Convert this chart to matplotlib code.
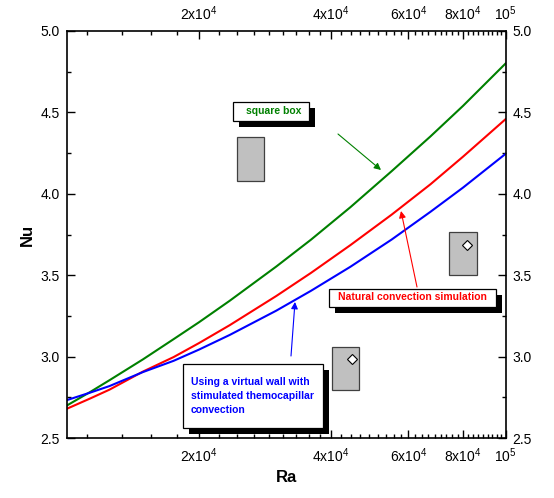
import matplotlib

matplotlib.use("Agg")
import matplotlib.pyplot as plt  # noqa: E402
from matplotlib.lines import Line2D  # noqa: E402
from matplotlib.patches import Rectangle  # noqa: E402
from matplotlib.ticker import FixedLocator, MultipleLocator, NullFormatter  # noqa: E402

plt.rcParams["font.family"] = ["Liberation Sans", "DejaVu Sans"]
plt.rcParams["mathtext.default"] = "regular"

# values
ra = [1.0e4, 1.13e4, 1.25e4, 1.49e4, 1.75e4, 2.0e4, 2.35e4, 3.0e4, 3.6e4,
      4.43e4, 5.5e4, 6.74e4, 8.0e4, 1.0e5]
nu_box = [2.70, 2.783, 2.855, 2.983, 3.107, 3.211, 3.343, 3.553, 3.718,
          3.918, 4.139, 4.352, 4.54, 4.80]
nu_natural = [2.68, 2.743, 2.797, 2.908, 2.997, 3.083, 3.193, 3.372, 3.514,
              3.685, 3.872, 4.058, 4.228, 4.458]
nu_wall = [2.733, 2.779, 2.819, 2.905, 2.974, 3.043, 3.133, 3.282, 3.404,
           3.552, 3.719, 3.889, 4.038, 4.245]

xticks = [2e4, 4e4, 6e4, 8e4, 1e5]
xticklabels = [r"2x10$^{4}$", r"4x10$^{4}$", r"6x10$^{4}$", r"8x10$^{4}$", r"10$^{5}$"]
yticks = [2.5, 3.0, 3.5, 4.0, 4.5, 5.0]

W, H = 554, 498
fig = plt.figure(figsize=(W / 100, H / 100), dpi=100)
L, R, T, B = 67, 505.5, 31, 438
ax = fig.add_axes([L / W, 1 - B / H, (R - L) / W, (B - T) / H])

ax.plot(ra, nu_box, color="#008000", lw=1.5)
ax.plot(ra, nu_natural, color="#ff0000", lw=1.5)
ax.plot(ra, nu_wall, color="#0000ff", lw=1.5)

ax.set_xscale("log")
ax.set_xlim(1e4, 1e5)
ax.set_ylim(2.5, 5.0)
ax.xaxis.set_major_locator(FixedLocator(xticks))
ax.set_xticklabels(xticklabels)
ax.xaxis.set_minor_locator(FixedLocator([k * 2e4 / 9 for k in range(5, 45)]))
ax.xaxis.set_minor_formatter(NullFormatter())
ax.set_yticks(yticks)
ax.set_yticklabels([f"{v:.1f}" for v in yticks])
ax.yaxis.set_minor_locator(MultipleLocator(0.25))
ax.yaxis.set_minor_formatter(NullFormatter())

ax.tick_params(which="both", direction="in", top=True, right=True,
               labeltop=True, labelright=True, width=1.0, labelsize=10)
ax.tick_params(which="major", length=6)
ax.tick_params(which="minor", length=3)
ax.tick_params(axis="x", which="major", pad=6)
ax.tick_params(axis="y", which="major", pad=5)
for s in ax.spines.values():
    s.set_linewidth(1.2)

ax.set_xlabel("Ra", fontsize=12, fontweight="bold", labelpad=4)
ax.set_ylabel("Nu", fontsize=12, fontweight="bold", labelpad=4)


def fx(x):
    return x / W


def fy(y):
    return 1 - y / H


def box(x0, y0, x1, y1, dx=6, dy=6):
    fig.add_artist(Rectangle((fx(x0 + dx), fy(y1 + dy)), fx(x1 - x0), (y1 - y0) / H,
                             transform=fig.transFigure, fc="black", ec="black", lw=0))
    fig.add_artist(Rectangle((fx(x0), fy(y1)), fx(x1 - x0), (y1 - y0) / H,
                             transform=fig.transFigure, fc="white", ec="black", lw=0.9))


def grey(x0, y0, x1, y1, diamond=None):
    fig.add_artist(Rectangle((fx(x0), fy(y1)), fx(x1 - x0), (y1 - y0) / H,
                             transform=fig.transFigure, fc="#c0c0c0", ec="#404040", lw=0.9))
    if diamond:
        fig.add_artist(Line2D([fx(diamond[0])], [fy(diamond[1])], marker="D", ms=5.5,
                              mfc="white", mec="black", mew=0.8, transform=fig.transFigure))


def arrow(x0, y0, x1, y1, color):
    ax.annotate("", xy=(fx(x1), fy(y1)), xytext=(fx(x0), fy(y0)),
                xycoords="figure fraction", textcoords="figure fraction",
                arrowprops=dict(arrowstyle="-|>", color=color, lw=0.8,
                                mutation_scale=10, shrinkA=0, shrinkB=0))


# annotations
box(233, 102, 309, 121)
fig.text(fx(274), fy(111.5), "square box", color="#008000", fontsize=7.5,
         fontweight="bold", ha="center", va="center")
arrow(338, 134, 381, 170, "#008000")

box(329, 289, 496, 307)
fig.text(fx(412), fy(297.5), "Natural convection simulation", color="#ff0000",
         fontsize=7.5, fontweight="bold", ha="center", va="center")
arrow(417, 287, 401, 211, "#ff0000")

box(183, 364, 323, 428)
fig.text(fx(191), fy(396), "Using a virtual wall with\nstimulated themocapillar\nconvection",
         color="#0000ff", fontsize=7.5, fontweight="bold", ha="left", va="center",
         linespacing=1.55)
arrow(291, 356, 295, 302, "#0000ff")

grey(237, 137, 264, 181)
grey(449, 232, 477, 275, diamond=(467, 245))
grey(332, 347, 359, 390, diamond=(351.5, 359))

fig.savefig("out.png", dpi=100)
